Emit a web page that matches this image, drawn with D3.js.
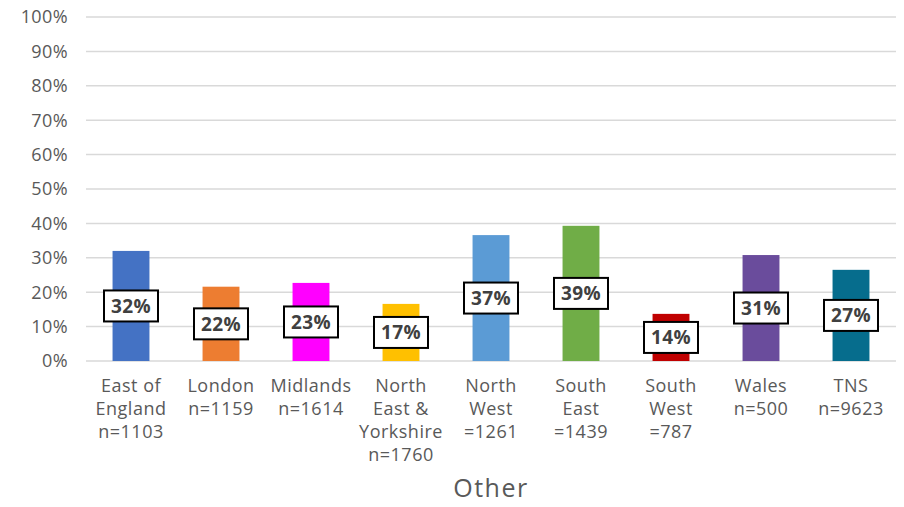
<!DOCTYPE html>
<html>
<head>
<meta charset="utf-8">
<script src="https://cdn.jsdelivr.net/npm/d3@7"></script>
<style>
  body { margin: 0; background: #ffffff; }
  text { font-family: "Open Sans", sans-serif; }
</style>
</head>
<body>
<svg width="904" height="507"></svg>
<script>
// Data: share of "Other" by region
const regions = [
    ["East of", "England", "n=1103"],
    ["London", "n=1159"],
    ["Midlands", "n=1614"],
    ["North", "East &", "Yorkshire", "n=1760"],
    ["North", "West", "=1261"],
    ["South", "East", "=1439"],
    ["South", "West", "=787"],
    ["Wales", "n=500"],
    ["TNS", "n=9623"]
];
const values = [0.32, 0.216, 0.227, 0.166, 0.366, 0.393, 0.137, 0.308, 0.265];
const labels = ["32%", "22%", "23%", "17%", "37%", "39%", "14%", "31%", "27%"];
const colors = ["#4472c4", "#ed7d31", "#ff00ff", "#ffc000", "#5b9bd5", "#70ad47", "#c00000", "#6a4c9c", "#066d8d"];
const yTicks = [0, 0.1, 0.2, 0.3, 0.4, 0.5, 0.6, 0.7, 0.8, 0.9, 1];
const axisTitle = "Other";

const svg = d3.select("svg"),
    margin = { top: 17, right: 8, bottom: 146, left: 86 },
    width = 904 - margin.left - margin.right,
    height = 507 - margin.top - margin.bottom,
    g = svg.append("g").attr("transform", `translate(${margin.left},${margin.top})`);

const x = d3.scaleBand().domain(d3.range(regions.length)).range([0, width]).paddingInner(0.59).paddingOuter(0.295);
const y = d3.scaleLinear().domain([0, 1]).range([height, 0]);

// Gridlines
g.append("g")
    .selectAll("line")
    .data(yTicks)
    .join("line")
    .attr("x1", 0).attr("x2", width)
    .attr("y1", d => y(d)).attr("y2", d => y(d))
    .attr("stroke", "#d9d9d9")
    .attr("stroke-width", 1.5);

// Y axis labels
g.append("g")
    .selectAll("text")
    .data(yTicks)
    .join("text")
    .attr("x", -18)
    .attr("y", d => y(d))
    .attr("dy", "0.36em")
    .attr("text-anchor", "end")
    .attr("fill", "#595959")
    .attr("font-size", 18)
    .attr("letter-spacing", 0.4)
    .text(d => d3.format(".0%")(d));

// Bars
g.selectAll("rect.bar")
    .data(values)
    .join("rect")
    .attr("class", "bar")
    .attr("x", (d, i) => x(i))
    .attr("width", x.bandwidth())
    .attr("y", d => y(d))
    .attr("height", d => height - y(d))
    .attr("fill", (d, i) => colors[i]);

// Data labels, centred in each bar
const lab = g.selectAll("g.lab")
    .data(values)
    .join("g")
    .attr("class", "lab")
    .attr("transform", (d, i) => `translate(${x(i) + x.bandwidth() / 2},${(y(d) + height) / 2})`);
lab.append("rect")
    .attr("x", -27).attr("y", -15.5)
    .attr("width", 54).attr("height", 31)
    .attr("fill", "#fff")
    .attr("stroke", "#000")
    .attr("stroke-width", 2);
lab.append("text")
    .attr("text-anchor", "middle")
    .attr("dy", "0.36em")
    .attr("font-size", 19)
    .attr("font-weight", "bold")
    .attr("letter-spacing", 0.4)
    .attr("fill", "#404040")
    .text((d, i) => labels[i]);

// X axis category labels
const xl = g.append("g")
    .selectAll("text")
    .data(regions)
    .join("text")
    .attr("text-anchor", "middle")
    .attr("fill", "#595959")
    .attr("font-size", 18)
    .attr("letter-spacing", 0.5)
    .attr("transform", (d, i) => `translate(${x(i) + x.bandwidth() / 2},${height + 31})`);
xl.selectAll("tspan")
    .data(d => d)
    .join("tspan")
    .attr("x", 0)
    .attr("dy", (d, i) => i === 0 ? 0 : 23)
    .text(d => d);

// Axis title
svg.append("text")
    .attr("x", margin.left + width / 2)
    .attr("y", 497)
    .attr("text-anchor", "middle")
    .attr("fill", "#595959")
    .attr("font-size", 25)
    .attr("letter-spacing", 1.5)
    .text(axisTitle);
</script>
</body>
</html>
